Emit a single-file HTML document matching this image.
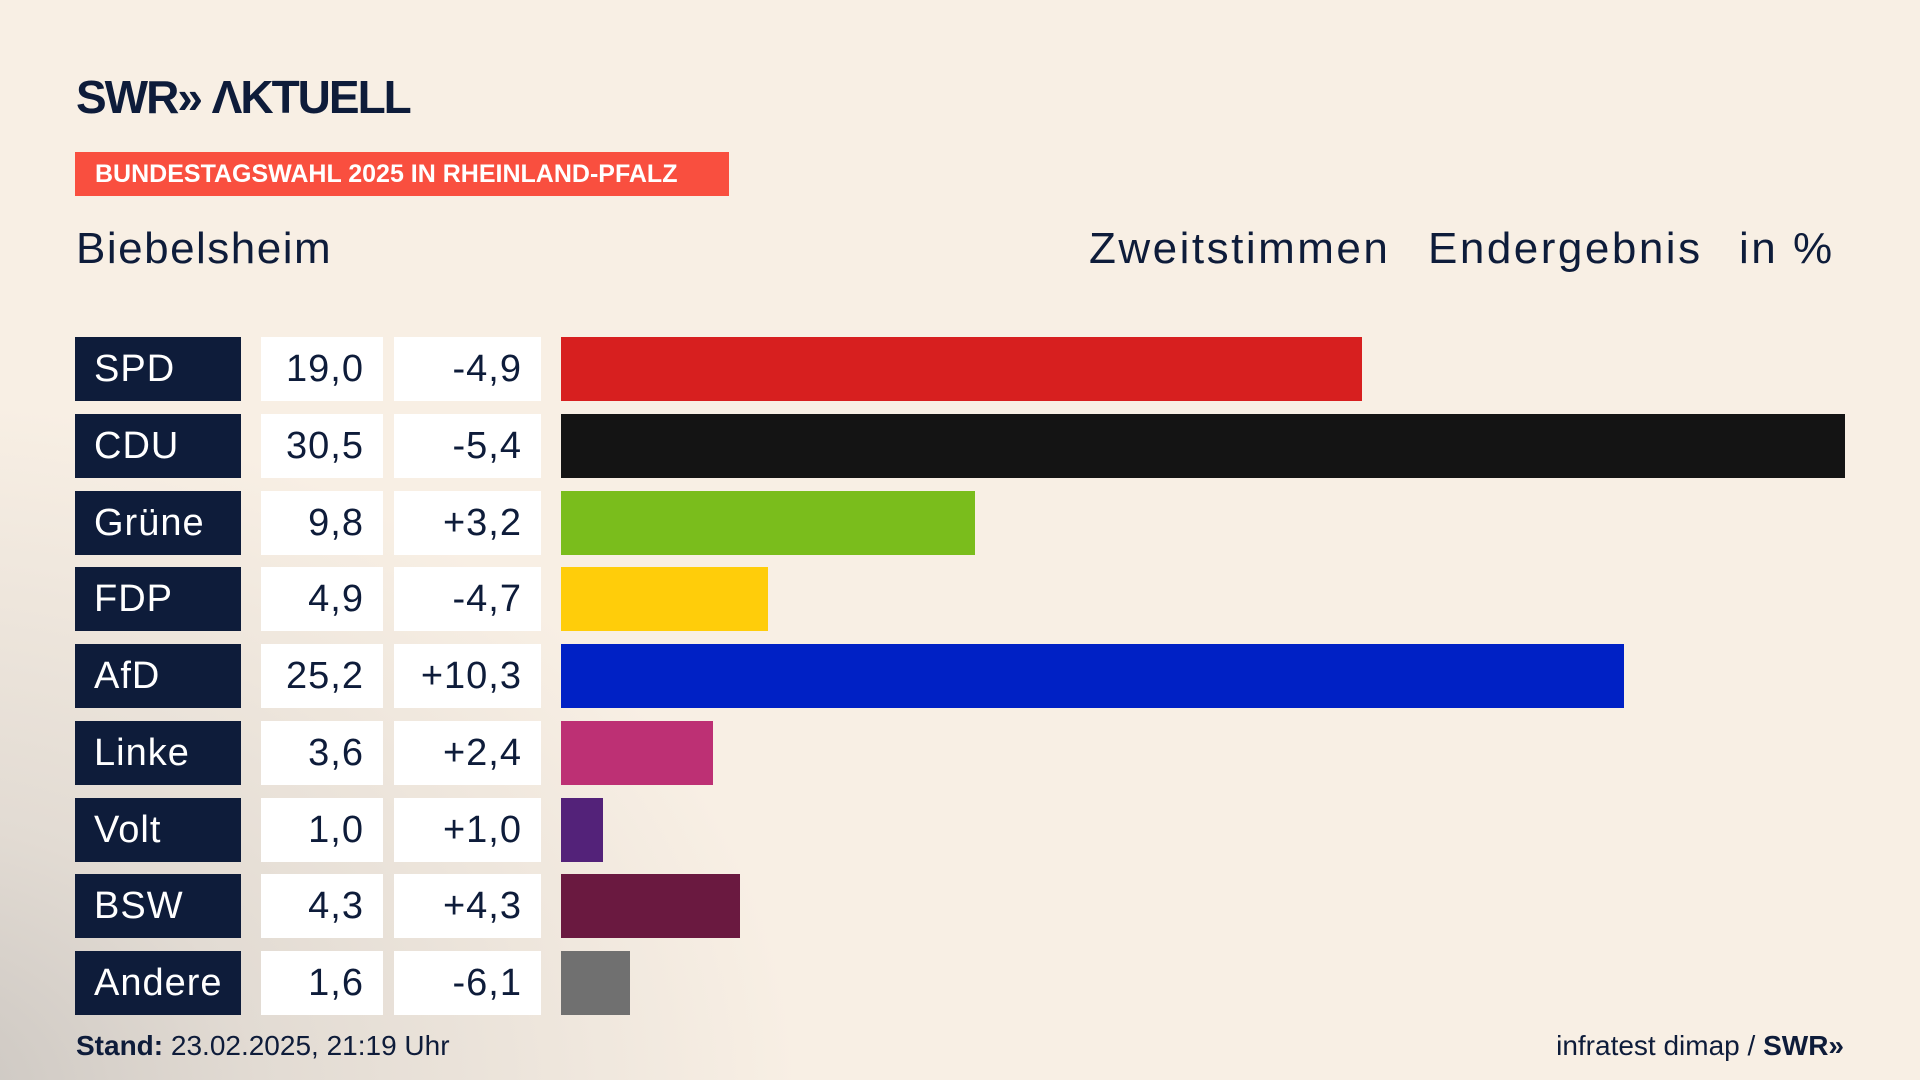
<!DOCTYPE html>
<html><head><meta charset="utf-8"><style>
body{margin:0;width:1920px;height:1080px;overflow:hidden;font-family:"Liberation Sans",sans-serif;color:#0e1c3a;
background:radial-gradient(ellipse 900px 700px at -100px 1100px,#c9c4bf 0%,#e2dbd3 40%,rgba(248,239,228,0) 100%),#f8efe4;position:relative}
.a{position:absolute}
.logo{left:76px;top:70px;font-size:46px;font-weight:bold;letter-spacing:-2px;color:#0e1c3a}
.ban{left:75px;top:152px;width:654px;height:44px;background:#f94f3f;color:#fff;font-weight:bold;font-size:25px;line-height:44px;text-indent:20px;white-space:nowrap}
.h{top:222px;font-size:44px;line-height:54px;letter-spacing:2.5px;white-space:nowrap}
.nm,.v,.d{position:absolute;height:64px;line-height:64px;font-size:38px;letter-spacing:1px}
.nm{left:75px;width:166px;background:#0e1c3a;color:#fff;text-indent:19px}
.v{left:261px;width:122px;background:#fff;text-align:right;box-sizing:border-box;padding-right:19px}
.d{left:394px;width:147px;background:#fff;text-align:right;box-sizing:border-box;padding-right:19px}
.b{position:absolute;left:561px;height:64px}
.f{top:1030px;font-size:28px}
</style></head><body>
<div class="a logo">SWR» ΛKTUELL</div>
<div class="a ban">BUNDESTAGSWAHL 2025 IN RHEINLAND-PFALZ</div>
<div class="a h" style="left:76px;letter-spacing:1.5px">Biebelsheim</div>
<div class="a h" style="left:1089px">Zweitstimmen</div>
<div class="a h" style="left:1428px">Endergebnis</div>
<div class="a h" style="left:1739px">in %</div>

<div class="nm" style="top:337px">SPD</div><div class="v" style="top:337px">19,0</div><div class="d" style="top:337px">-4,9</div><div class="b" style="top:337px;width:801px;background:#d71f1f"></div>
<div class="nm" style="top:414px">CDU</div><div class="v" style="top:414px">30,5</div><div class="d" style="top:414px">-5,4</div><div class="b" style="top:414px;width:1284px;background:#141414"></div>
<div class="nm" style="top:491px">Grüne</div><div class="v" style="top:491px">9,8</div><div class="d" style="top:491px">+3,2</div><div class="b" style="top:491px;width:414px;background:#7abd1c"></div>
<div class="nm" style="top:567px">FDP</div><div class="v" style="top:567px">4,9</div><div class="d" style="top:567px">-4,7</div><div class="b" style="top:567px;width:207px;background:#ffcd0a"></div>
<div class="nm" style="top:644px">AfD</div><div class="v" style="top:644px">25,2</div><div class="d" style="top:644px">+10,3</div><div class="b" style="top:644px;width:1063px;background:#0021c5"></div>
<div class="nm" style="top:721px">Linke</div><div class="v" style="top:721px">3,6</div><div class="d" style="top:721px">+2,4</div><div class="b" style="top:721px;width:152px;background:#bd3074"></div>
<div class="nm" style="top:798px">Volt</div><div class="v" style="top:798px">1,0</div><div class="d" style="top:798px">+1,0</div><div class="b" style="top:798px;width:42px;background:#532279"></div>
<div class="nm" style="top:874px">BSW</div><div class="v" style="top:874px">4,3</div><div class="d" style="top:874px">+4,3</div><div class="b" style="top:874px;width:179px;background:#6a1940"></div>
<div class="nm" style="top:951px">Andere</div><div class="v" style="top:951px">1,6</div><div class="d" style="top:951px">-6,1</div><div class="b" style="top:951px;width:69px;background:#707070"></div>

<div class="a f" style="left:76px"><b>Stand:</b> 23.02.2025, 21:19 Uhr</div>
<div class="a f" style="right:76px">infratest dimap / <b>SWR»</b></div>
</body></html>
